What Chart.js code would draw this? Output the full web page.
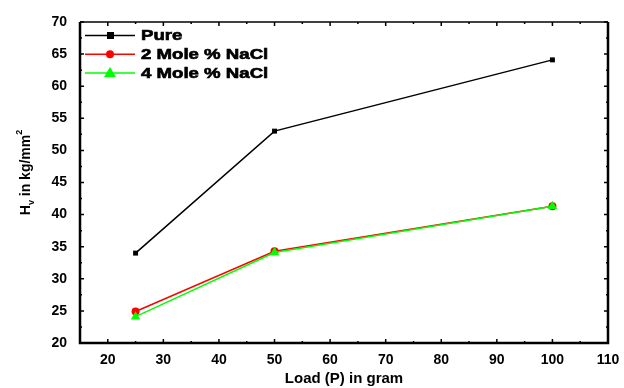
<!DOCTYPE html>
<html>
<head>
<meta charset="utf-8">
<script src="https://cdn.jsdelivr.net/npm/chart.js@4"></script>
<style>
  html, body { margin: 0; padding: 0; background: #fff; }
  canvas { display: block; }
</style>
</head>
<body>
<canvas id="chart" width="624" height="388"></canvas>
<script>
// Data
const loads = [25, 50, 100];
const pure = [34.0, 53.0, 64.1];
const nacl2 = [24.9, 34.3, 41.3];
const nacl4 = [24.1, 34.1, 41.3];
const xTicks = [20, 30, 40, 50, 60, 70, 80, 90, 100, 110];
const yTicks = [20, 25, 30, 35, 40, 45, 50, 55, 60, 65, 70];

const FONT = 'Liberation Sans, Arial, sans-serif';

const toXY = (ys) => loads.map((x, i) => ({ x: x, y: ys[i] }));

// box frame, inward ticks, legend and y title
const decorations = {
    id: 'decorations',
    afterDatasetsDraw(chart) {
        const ctx = chart.ctx;
        const a = chart.chartArea;
        const xs = chart.scales.x, ys = chart.scales.y;
        ctx.save();
        ctx.strokeStyle = '#000';

        // ticks (major + minor) on all four sides, pointing inward
        ctx.lineWidth = 1.5;
        for (let v = 15; v <= 110; v += 5) {
            const px = xs.getPixelForValue(v);
            const len = v % 10 === 0 ? 4 : 2;
            ctx.beginPath();
            ctx.moveTo(px, a.bottom); ctx.lineTo(px, a.bottom - len);
            ctx.moveTo(px, a.top); ctx.lineTo(px, a.top + len);
            ctx.stroke();
        }
        for (let v = 20; v <= 70; v += 2.5) {
            const py = ys.getPixelForValue(v);
            const len = v % 5 === 0 ? 4 : 2;
            ctx.beginPath();
            ctx.moveTo(a.left, py); ctx.lineTo(a.left + len, py);
            ctx.moveTo(a.right, py); ctx.lineTo(a.right - len, py);
            ctx.stroke();
        }

        // frame
        ctx.lineWidth = 1.5;
        ctx.beginPath();
        ctx.moveTo(a.left, a.top); ctx.lineTo(a.right, a.top);
        ctx.stroke();
        ctx.lineWidth = 2.5;
        ctx.beginPath();
        ctx.moveTo(a.left, a.top); ctx.lineTo(a.left, a.bottom); ctx.lineTo(a.right, a.bottom); ctx.lineTo(a.right, a.top);
        ctx.stroke();

        // legend
        const rows = [
            { label: 'Pure', ds: chart.data.datasets[0] },
            { label: '2 Mole % NaCl', ds: chart.data.datasets[1] },
            { label: '4 Mole % NaCl', ds: chart.data.datasets[2] }
        ];
        ctx.textBaseline = 'middle';
        rows.forEach((r, i) => {
            const y = 35.5 + i * 18.8;
            ctx.strokeStyle = r.ds.borderColor;
            ctx.lineWidth = 1.5;
            ctx.beginPath();
            ctx.moveTo(85, y); ctx.lineTo(135, y);
            ctx.stroke();
            ctx.fillStyle = r.ds.pointBackgroundColor;
            if (r.ds.pointStyle === 'rect') {
                ctx.fillRect(107, y - 3.5, 7, 7);
            } else if (r.ds.pointStyle === 'circle') {
                ctx.beginPath(); ctx.arc(110, y, 4, 0, Math.PI * 2); ctx.fill();
            } else {
                ctx.beginPath();
                ctx.moveTo(110, y - 6); ctx.lineTo(116, y + 4); ctx.lineTo(104, y + 4);
                ctx.closePath(); ctx.fill();
            }
            // wide heavy legend text, like the original
            ctx.save();
            ctx.translate(141, y + 1);
            ctx.scale(1.33, 1);
            ctx.font = 'bold 14px ' + FONT;
            ctx.fillStyle = '#000';
            ctx.strokeStyle = '#000';
            ctx.lineWidth = 0.6;
            ctx.textAlign = 'left';
            ctx.fillText(r.label, 0, 0);
            ctx.strokeText(r.label, 0, 0);
            ctx.restore();
        });

        // y axis title: H_v in kg/mm^2
        ctx.translate(25, (a.top + a.bottom) / 2 - 10);
        ctx.rotate(-Math.PI / 2);
        ctx.fillStyle = '#000';
        ctx.textBaseline = 'alphabetic';
        const big = 'bold 14px ' + FONT, small = 'bold 9px ' + FONT;
        ctx.font = big;
        const wH = ctx.measureText('H').width;
        const wMid = ctx.measureText(' in kg/mm').width;
        ctx.font = small;
        const wv = ctx.measureText('v').width;
        const w2 = ctx.measureText('2').width;
        let x = -(wH + wv + wMid + w2) / 2;
        const base = 5;
        ctx.font = big; ctx.fillText('H', x, base); x += wH;
        ctx.font = small; ctx.fillText('v', x, base + 4); x += wv;
        ctx.font = big; ctx.fillText(' in kg/mm', x, base); x += wMid;
        ctx.font = small; ctx.fillText('2', x, base - 8);
        ctx.restore();
    }
};

new Chart(document.getElementById('chart'), {
    type: 'line',
    data: {
        datasets: [
            {
                label: 'Pure', data: toXY(pure), order: 2,
                borderColor: '#000', backgroundColor: '#000',
                pointStyle: 'rect', pointRadius: 3.5, pointBackgroundColor: '#000', pointBorderWidth: 0,
                borderWidth: 1.5
            },
            {
                label: '2 Mole % NaCl', data: toXY(nacl2), order: 1,
                borderColor: '#ff0000', backgroundColor: '#ff0000',
                pointStyle: 'circle', pointRadius: 4, pointBackgroundColor: '#ff0000', pointBorderWidth: 0,
                borderWidth: 1.5
            },
            {
                label: '4 Mole % NaCl', data: toXY(nacl4), order: 0,
                borderColor: '#00ff00', backgroundColor: '#00ff00',
                pointStyle: 'triangle', pointRadius: 5.5, pointBackgroundColor: '#00ff00', pointBorderWidth: 0,
                borderWidth: 1.5
            }
        ]
    },
    options: {
        responsive: false,
        animation: false,
        devicePixelRatio: 1,
        layout: { padding: { top: 22, right: 16, left: 0, bottom: 0 } },
        plugins: { legend: { display: false }, tooltip: { enabled: false } },
        scales: {
            x: {
                type: 'linear', min: 15, max: 110,
                afterBuildTicks: (s) => { s.ticks = xTicks.map(v => ({ value: v })); },
                afterFit: (s) => { s.height = 45; },
                grid: { display: false },
                border: { display: false },
                ticks: { color: '#000', font: { family: FONT, size: 14, weight: 'bold' }, padding: 1, maxRotation: 0, autoSkip: false },
                title: { display: true, text: 'Load (P) in gram', color: '#000', font: { family: FONT, size: 15, weight: 'bold' }, padding: { top: 4, bottom: 0 } }
            },
            y: {
                type: 'linear', min: 20, max: 70,
                afterBuildTicks: (s) => { s.ticks = yTicks.map(v => ({ value: v })); },
                afterFit: (s) => { s.width = 80; },
                grid: { display: false },
                border: { display: false },
                ticks: { color: '#000', font: { family: FONT, size: 14, weight: 'bold' }, padding: 5, autoSkip: false }
            }
        }
    },
    plugins: [decorations]
});
</script>
</body>
</html>
